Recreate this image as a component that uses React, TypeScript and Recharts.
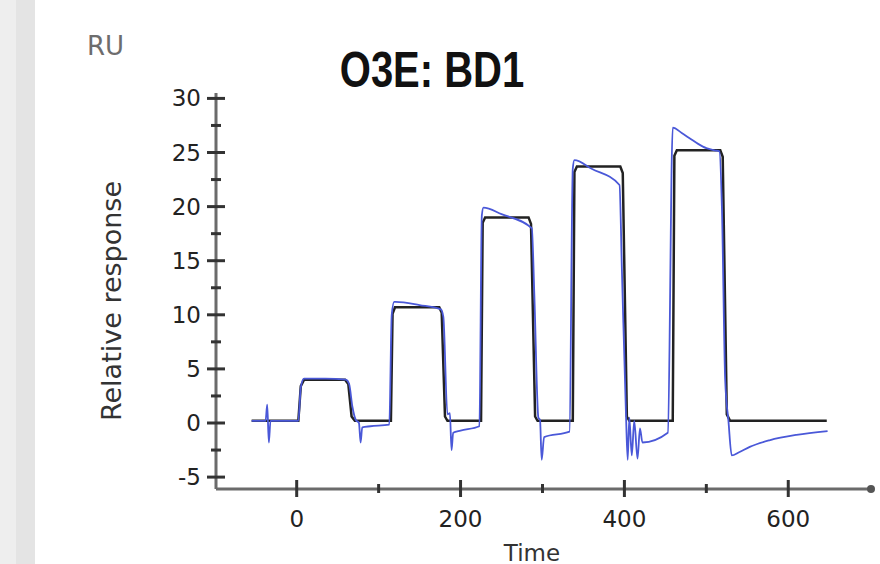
import React from 'react';
import { LineChart, Line, XAxis, YAxis, ReferenceDot } from 'recharts';

// Fitted curve (black)
const fitTime = [-55, 2, 5, 9, 59, 63, 67, 71, 115, 117, 120, 174, 177, 181, 184, 225, 227, 230, 283, 286, 291, 294, 337, 339, 342, 395, 398, 403, 406, 459, 461, 464, 517, 520, 525, 529, 647];
const fitValue = [0.2, 0.2, 3.4, 4.0, 4.0, 3.6, 0.6, 0.2, 0.2, 10.1, 10.7, 10.7, 10.2, 0.6, 0.2, 0.2, 18.5, 19.0, 19.0, 18.4, 0.6, 0.2, 0.2, 23.2, 23.7, 23.7, 23.1, 0.6, 0.2, 0.2, 24.7, 25.2, 25.2, 24.6, 0.8, 0.2, 0.2];

// Measured response (blue)
const dataTime = [
  -55, -38, -36, -34, -32, 2, 5, 9, 35, 60, 64, 68, 72, 76, 78, 80, 90, 113,
  116, 119, 121, 150, 176, 179, 184, 187, 189, 191, 200, 223,
  226, 228, 250, 287, 290, 295, 297, 299, 302, 333,
  337, 339, 360, 394, 397, 402, 404, 406, 409, 412, 416, 419, 422, 453,
  459, 470, 480, 490, 500, 510, 516, 519, 523, 527, 531, 540, 553, 577, 610, 648,
];
const dataValue = [
  0.2, 0.2, 1.7, -1.8, 0.2, 0.2, 3.3, 4.1, 4.1, 4.0, 3.6, 1.5, 0.3, 0.0, -1.8, -0.4, -0.3, -0.15,
  10.0, 11.2, 11.2, 10.9, 10.5, 9.8, 0.8, 0.9, -2.5, -0.9, -0.7, -0.3,
  19.2, 19.9, 19.3, 18.0, 12.0, 0.5, 0.3, -3.4, -1.3, -0.8,
  23.5, 24.3, 23.5, 22.0, 14.0, 0.6, -3.4, 0.5, -3.0, 0.2, -3.3, -0.5, -1.8, -0.9,
  27.3, 26.8, 26.3, 25.8, 25.4, 25.2, 25.1, 20.0, 4.0, 0.2, -3.0, -2.7, -2.2, -1.6, -1.1, -0.75,
];

const yTicks = [-5, -2.5, 0, 2.5, 5, 7.5, 10, 12.5, 15, 17.5, 20, 22.5, 25, 27.5, 30];
const xTicks = [0, 100, 200, 300, 400, 500, 600];
const xLabelTicks = [0, 200, 400, 600];

const fitData = fitTime.map((t, i) => ({ t, v: fitValue[i] }));
const rawData = dataTime.map((t, i) => ({ t, v: dataValue[i] }));

const W = 880;
const H = 564;
const MARGIN = { top: 93, right: 9, bottom: 15, left: 136 };
const Y_AXIS_W = 80;
const X_AXIS_H = 60;
const AXIS_X = MARGIN.left + Y_AXIS_W;
const AXIS_Y = H - MARGIN.bottom - X_AXIS_H;
const FONT = '"DejaVu Sans", Verdana, sans-serif';

const YTick = (props: any) => {
  const { y, payload } = props;
  const major = payload.value % 5 === 0;
  return (
    <g>
      <line x1={AXIS_X - (major ? 9 : 5)} x2={AXIS_X + (major ? 9 : 5)} y1={y} y2={y} stroke="#333" strokeWidth={3} />
      {major && (
        <text x={AXIS_X - 15} y={y + 8} textAnchor="end" fontSize={23} fontFamily={FONT} fill="#222">
          {payload.value}
        </text>
      )}
    </g>
  );
};

const XTick = (props: any) => {
  const { x, payload } = props;
  const major = xLabelTicks.includes(payload.value);
  return (
    <g>
      <line x1={x} x2={x} y1={AXIS_Y - (major ? 9 : 5)} y2={AXIS_Y + (major ? 8 : 4)} stroke="#333" strokeWidth={3} />
      {major && (
        <text x={x} y={AXIS_Y + 38} textAnchor="middle" fontSize={23} fontFamily={FONT} fill="#222">
          {payload.value}
        </text>
      )}
    </g>
  );
};

export default function App() {
  return (
    <div style={{ position: 'absolute', left: 0, top: 0, width: W, height: H, background: '#fff', overflow: 'hidden' }}>
      <div style={{ position: 'absolute', left: 0, top: 0, width: 16, height: H, background: '#eeeeee' }} />
      <div style={{ position: 'absolute', left: 16, top: 0, width: 19, height: H, background: '#e4e4e4' }} />
      <div style={{ position: 'absolute', left: 0, top: 0 }}>
        <LineChart width={W} height={H} margin={MARGIN}>
          <XAxis
            dataKey="t"
            type="number"
            domain={[-98.5, 701]}
            ticks={xTicks}
            interval={0}
            allowDataOverflow
            height={X_AXIS_H}
            tickLine={false}
            axisLine={{ stroke: '#6b6b6b', strokeWidth: 3 }}
            tick={<XTick />}
          />
          <YAxis
            type="number"
            domain={[-6.1, 30.5]}
            ticks={yTicks}
            interval={0}
            allowDataOverflow
            width={Y_AXIS_W}
            tickLine={false}
            axisLine={{ stroke: '#6b6b6b', strokeWidth: 3 }}
            tick={<YTick />}
          />
          <Line data={fitData} dataKey="v" type="linear" stroke="#222" strokeWidth={2.5} dot={false} isAnimationActive={false} />
          <Line data={rawData} dataKey="v" type="monotone" stroke="#4a58d8" strokeWidth={1.8} dot={false} isAnimationActive={false} />
          <ReferenceDot x={701} y={-6.1} r={4} fill="#555" stroke="none" ifOverflow="visible" />
        </LineChart>
      </div>
      <svg width={W} height={H} style={{ position: 'absolute', left: 0, top: 0, pointerEvents: 'none' }}>
        <text x={87} y={55} fontSize={26} fontFamily={FONT} fill="#6d6d6d">RU</text>
        <text
          transform="translate(432,87) scale(0.8,1)"
          textAnchor="middle"
          fontSize={50}
          fontWeight="bold"
          fontFamily='"Liberation Sans", Arial, sans-serif'
          fill="#111"
        >
          O3E: BD1
        </text>
        <text
          transform="translate(121,301) rotate(-90)"
          textAnchor="middle"
          fontSize={27}
          fontFamily={FONT}
          fill="#333"
        >
          Relative response
        </text>
        <text x={532} y={561} textAnchor="middle" fontSize={23} fontFamily={FONT} fill="#333">Time</text>
      </svg>
    </div>
  );
}
